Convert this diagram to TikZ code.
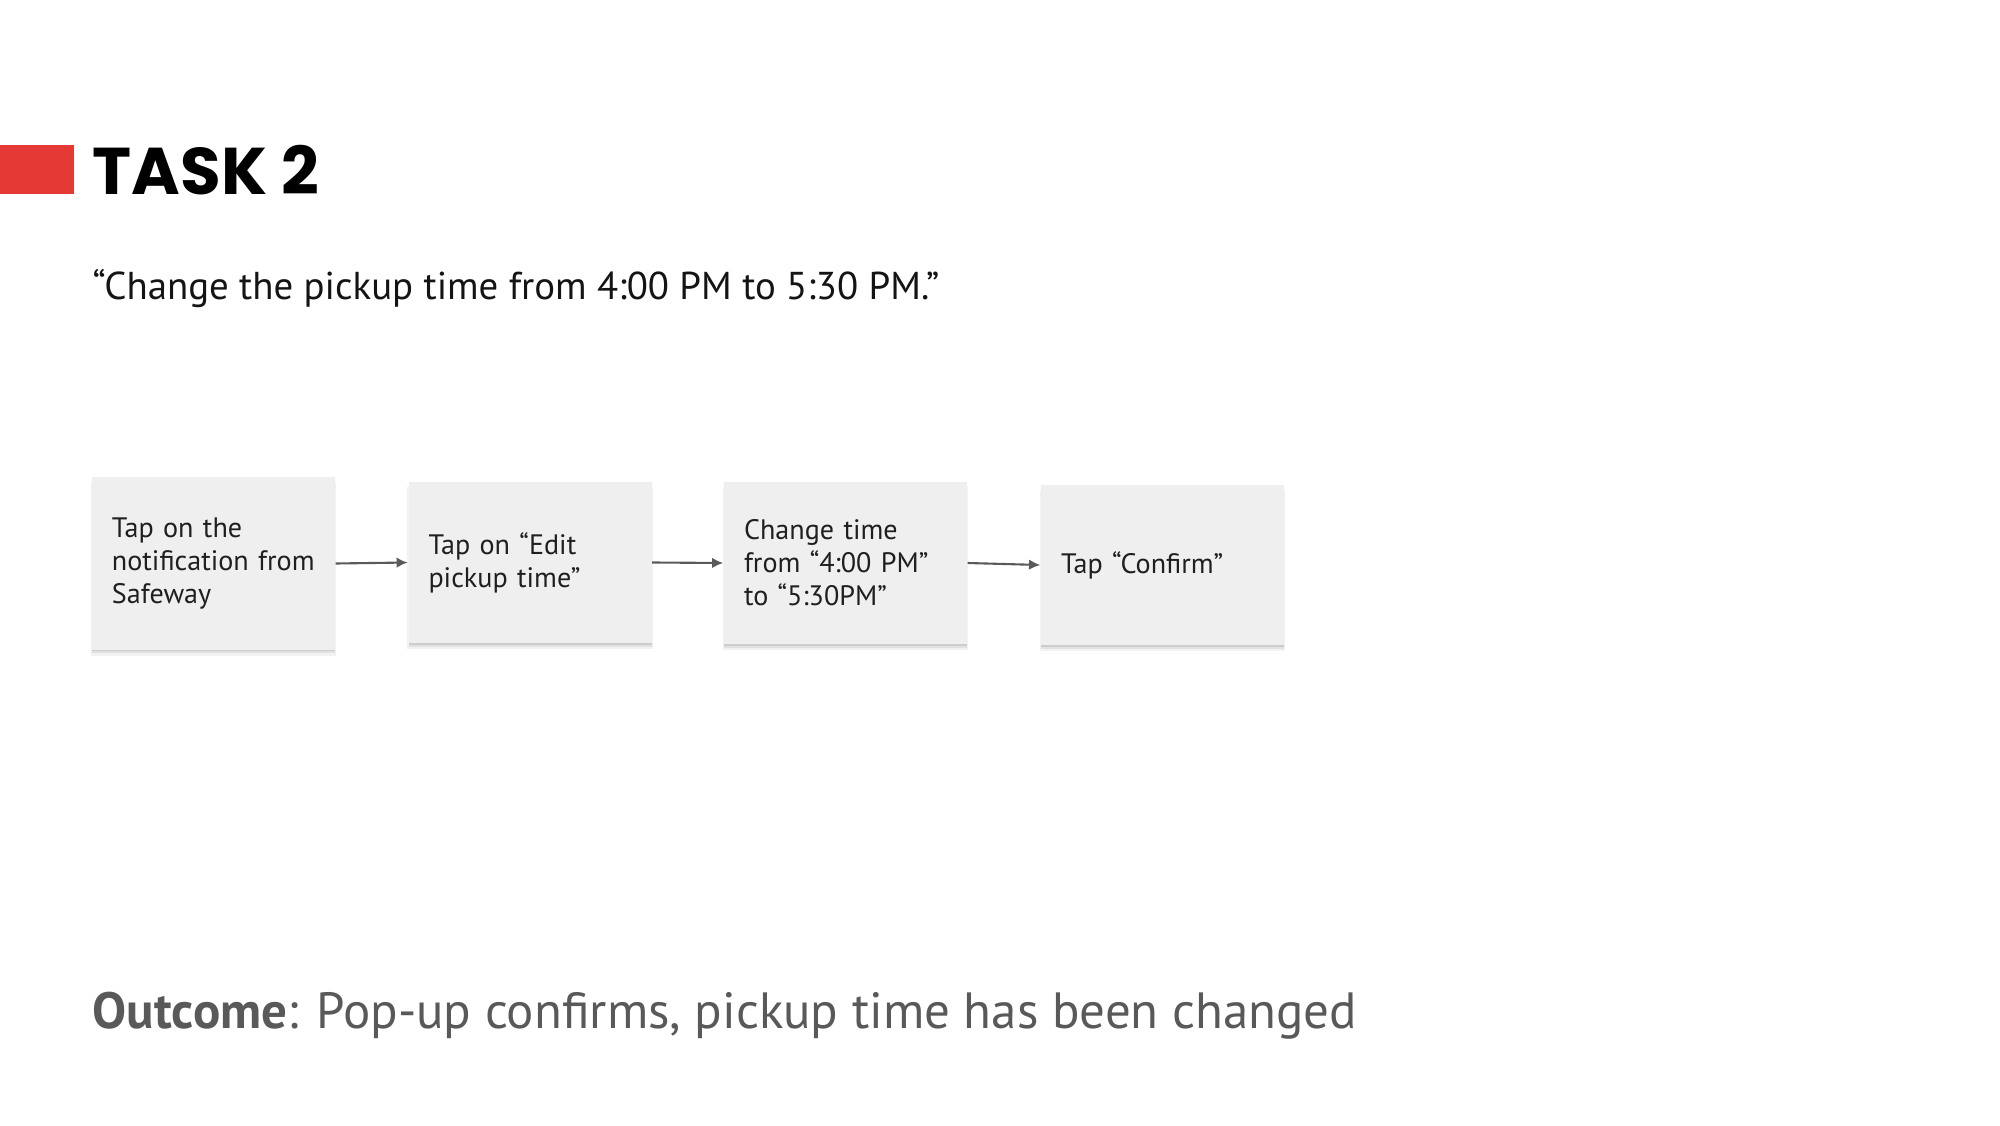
\documentclass[tikz,border=0pt]{standalone}
\usepackage{fontspec}
\setmainfont{PT Sans}
\newfontfamily\titlefont{Poppins}
\usetikzlibrary{arrows.meta,shadows}
\definecolor{taskred}{RGB}{229,57,53}
\definecolor{boxgray}{RGB}{239,239,239}
\definecolor{outgray}{RGB}{89,89,89}
\definecolor{arrowgray}{RGB}{90,90,90}
\tikzset{
	stepbox/.style={fill=boxgray, minimum width=2.43cm, minimum height=1.62cm, text width=2.03cm, align=left, inner sep=0pt, text=black!88,
		font=\fontsize{8}{9.4}\selectfont,
		drop shadow={shadow xshift=0pt, shadow yshift=-0.015cm, opacity=0.09, fill=black},
		drop shadow={shadow xshift=0pt, shadow yshift=-0.035cm, opacity=0.07, fill=black},
		drop shadow={shadow xshift=0pt, shadow yshift=-0.055cm, shadow scale=1.01, opacity=0.05, fill=black}},
	flow/.style={draw=arrowgray, line width=0.6pt, -{Latex[length=3.2pt,width=3pt]}}
}

\begin{document}
\begin{tikzpicture}
				\useasboundingbox (0, 0) rectangle (20, 11.25);
				
				\fill[taskred] (0, 9.31) rectangle (0.74, 9.8);
				\node[anchor=base west, inner sep=0pt, font=\titlefont\bfseries\fontsize{18.8}{22}\selectfont] (title) at (0.92, 9.3) {TASK 2};
				
				\node[anchor=base west, inner sep=0pt, text=black!92, font=\fontsize{11.05}{13}\selectfont] (quote) at (0.92, 8.25) {“Change the pickup time from 4:00 PM to 5:30 PM.”};
				
				\node[stepbox, minimum height=1.72cm] (s1) at (2.135, 5.615) {Tap~on~the\\notification~from\\Safeway};
				\node[stepbox, minimum height=1.61cm] (s2) at (5.3, 5.625) {Tap~on~“Edit\\pickup~time”};
				\node[stepbox] (s3) at (8.455, 5.62) {Change~time\\from~“4:00~PM”\\to~“5:30PM”};
				\node[stepbox, minimum height=1.6cm] (s4) at (11.625, 5.6) {Tap~“Confirm”};
				
				\draw[flow] (s1.east) -- (s2.west);
				\draw[flow] (s2.east) -- (s3.west);
				\draw[flow] (s3.east) -- (s4.west);
				
				\node[anchor=base west, inner sep=0pt, text=outgray, font=\fontsize{14.5}{17}\selectfont] (outcome) at (0.92, 0.97) {\textbf{Outcome}: Pop-up confirms, pickup time has been changed};
			\end{tikzpicture}
\end{document}
